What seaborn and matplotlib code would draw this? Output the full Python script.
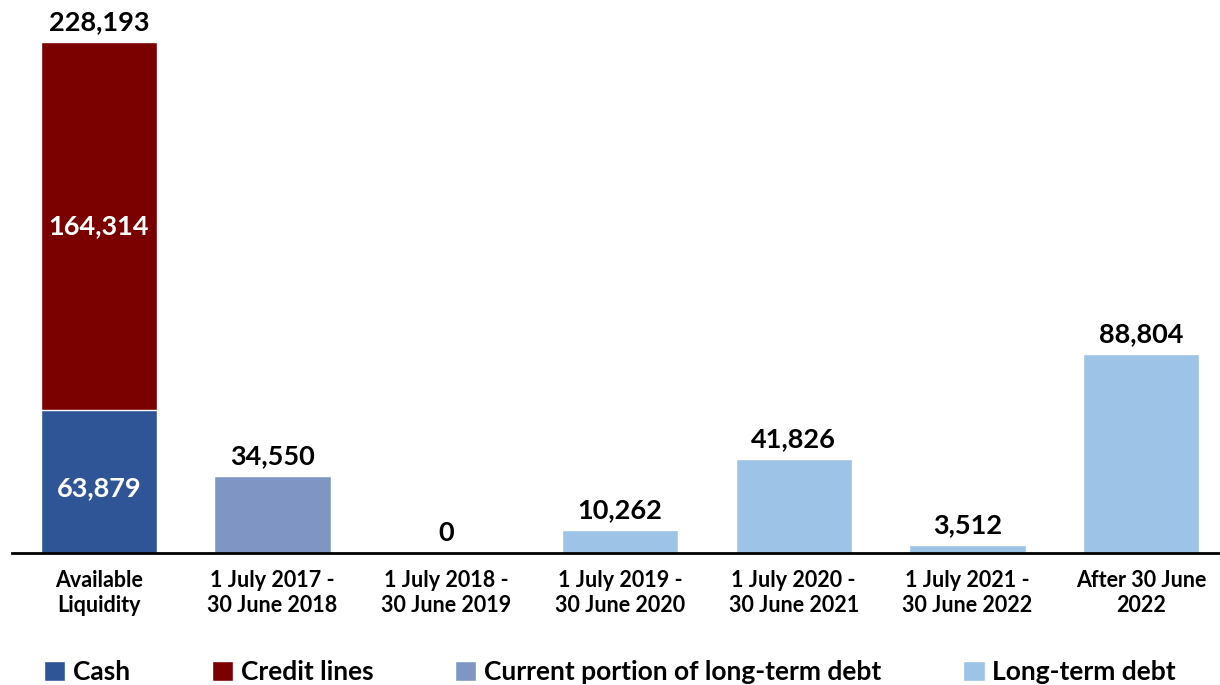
import numpy as np
import pandas as pd
import matplotlib
matplotlib.use('Agg')
import matplotlib.pyplot as plt
from matplotlib.patches import Patch
import seaborn as sns

# 数据
categories = ['Available\nLiquidity', '1 July 2017 -\n30 June 2018', '1 July 2018 -\n30 June 2019',
              '1 July 2019 -\n30 June 2020', '1 July 2020 -\n30 June 2021', '1 July 2021 -\n30 June 2022',
              'After 30 June\n2022']
cash = [63879]
credit_lines = [164314]
debt_values = [34550, 0, 10262, 41826, 3512, 88804]
debt_series = ['Current portion of long-term debt'] + ['Long-term debt'] * 5
series_names = ['Cash', 'Credit lines', 'Current portion of long-term debt', 'Long-term debt']
colors = {'Cash': '#2F5597', 'Credit lines': '#7B0000',
          'Current portion of long-term debt': '#7F96C4', 'Long-term debt': '#9DC3E6'}

sns.set_style('white')
plt.rcParams['font.family'] = ['Lato', 'DejaVu Sans']
plt.rcParams['text.color'] = 'black'
plt.rcParams['xtick.color'] = 'black'
plt.rcParams['xtick.labelcolor'] = 'black'
W = 'bold'

total = cash[0] + credit_lines[0]
top_df = pd.DataFrame({
    'cat': categories,
    'value': [total] + debt_values,
    'series': ['Credit lines'] + debt_series,
})
cash_df = pd.DataFrame({'cat': categories[:1], 'value': cash, 'series': ['Cash']})

fig = plt.figure(figsize=(12.2, 6.85), dpi=100)
ax = fig.add_axes([12 / 1220, 132 / 685, 1216 / 1220, 553 / 685])

# 先画总高度，再把现金盖在下面
sns.barplot(data=top_df, x='cat', y='value', hue='series', palette=colors, dodge=False,
            width=0.67, order=categories, ax=ax, legend=False, saturation=1)
sns.barplot(data=cash_df, x='cat', y='value', hue='series', palette=colors, dodge=False,
            width=0.67, order=categories, ax=ax, legend=False, saturation=1)

ax.set_xlim(-0.5, len(categories) - 0.5)
ax.set_ylim(0, 247000)
ax.set_xlabel('')
ax.set_ylabel('')
ax.set_yticks([])
for s in ['top', 'right', 'left']:
    ax.spines[s].set_visible(False)
ax.spines['bottom'].set_linewidth(2)
ax.spines['bottom'].set_color('black')

ax.set_xticks(range(len(categories)))
ax.set_xticklabels(categories, fontsize=15.5, fontweight=W, linespacing=1.25, color='black')
ax.tick_params(axis='x', which='major', length=0, pad=12)
ax.set_xticks(np.arange(-0.5, len(categories)), minor=True)
ax.tick_params(axis='x', which='minor', length=8, width=2, color='black', direction='out')

# 数值标签
fmt = lambda v: f'{v:,.0f}'
ax.text(0, total + 3500, fmt(total), ha='center', va='bottom', fontsize=19.5, fontweight=W)
ax.text(0, cash[0] + credit_lines[0] / 2, fmt(credit_lines[0]), ha='center', va='center',
        fontsize=19.5, fontweight=W, color='white')
ax.text(0, cash[0] / 2 - 3000, fmt(cash[0]), ha='center', va='center',
        fontsize=19.5, fontweight=W, color='white')
for i, v in enumerate(debt_values, start=1):
    ax.text(i, v + 3500, fmt(v), ha='center', va='bottom', fontsize=19.5, fontweight=W)

handles = [Patch(facecolor=colors[n], label=n) for n in series_names]
fig.legend(handles=handles, loc='center', bbox_to_anchor=(0.5, 0.019), ncol=4, frameon=False,
           prop={'size': 19, 'weight': W}, handlelength=0.8, handleheight=0.8,
           handletextpad=0.3, columnspacing=3.1)

fig.savefig('out.png', dpi=100)
